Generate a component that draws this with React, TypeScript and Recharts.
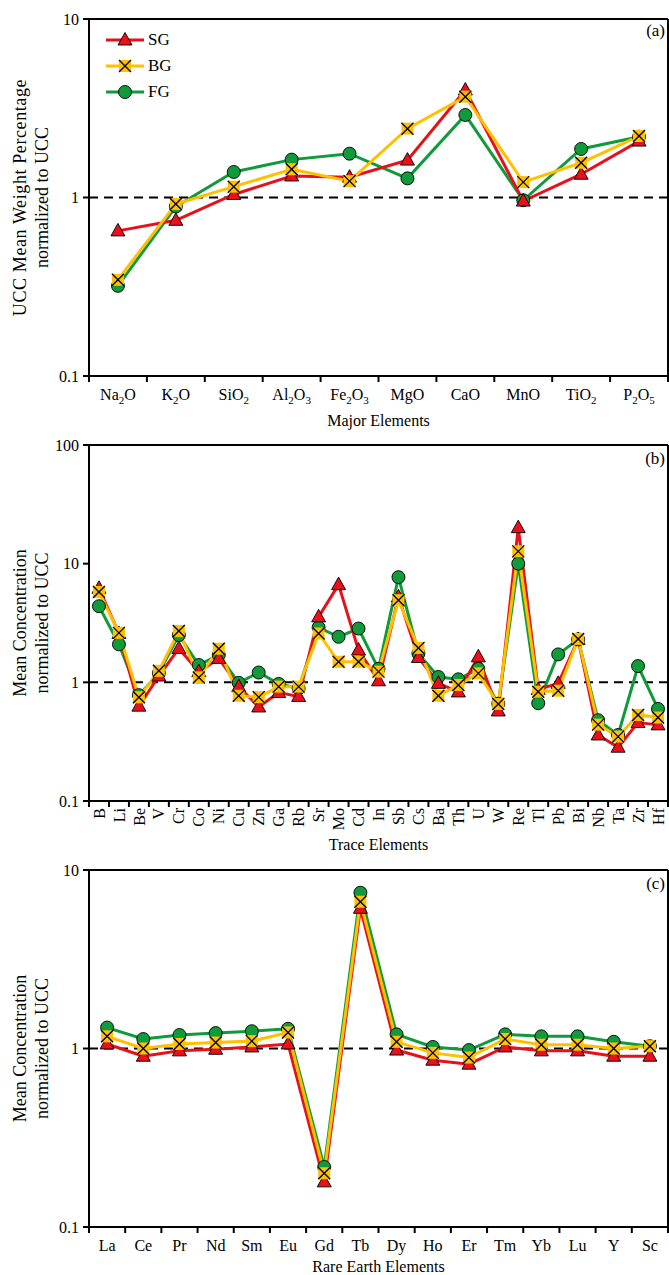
import React from 'react';
import { LineChart, Line, XAxis, YAxis, ReferenceLine, Legend } from 'recharts';

const FONT = '"Liberation Serif","Times New Roman",serif';
const W = 669;
const Y_AXIS_W = 89;
const RED = '#e8101a';
const GOLD = '#ffc000';
const GREEN = '#109a3a';

// ---- Panel (a) major elements ----
const majorCats = ['Na2O', 'K2O', 'SiO2', 'Al2O3', 'Fe2O3', 'MgO', 'CaO', 'MnO', 'TiO2', 'P2O5'];
const majorSG = [0.65, 0.745, 1.04, 1.32, 1.3, 1.62, 4.0, 0.955, 1.35, 2.07];
const majorBG = [0.346, 0.92, 1.15, 1.44, 1.235, 2.43, 3.67, 1.22, 1.565, 2.21];
const majorFG = [0.32, 0.89, 1.39, 1.63, 1.76, 1.28, 2.9, 0.965, 1.87, 2.19];

// ---- Panel (b) trace elements ----
const traceCats = ['B', 'Li', 'Be', 'V', 'Cr', 'Co', 'Ni', 'Cu', 'Zn', 'Ga', 'Rb', 'Sr', 'Mo', 'Cd', 'In', 'Sb', 'Cs', 'Ba', 'Th', 'U', 'W', 'Re', 'Tl', 'Pb', 'Bi', 'Nb', 'Ta', 'Zr', 'Hf'];
const traceSG = [6.2, 2.58, 0.63, 1.13, 1.93, 1.23, 1.59, 0.92, 0.62, 0.82, 0.76, 3.56, 6.66, 1.87, 1.03, 5.25, 1.62, 0.98, 0.83, 1.64, 0.574, 20.1, 0.87, 0.98, 2.3, 0.36, 0.284, 0.458, 0.438];
const traceBG = [5.77, 2.61, 0.748, 1.25, 2.71, 1.1, 1.92, 0.77, 0.75, 0.92, 0.92, 2.58, 1.49, 1.49, 1.23, 4.92, 1.95, 0.77, 0.95, 1.19, 0.657, 12.7, 0.834, 0.85, 2.32, 0.44, 0.349, 0.531, 0.505];
const traceFG = [4.38, 2.09, 0.78, 1.2, 2.5, 1.4, 1.7, 0.99, 1.21, 0.97, 0.89, 2.9, 2.42, 2.84, 1.3, 7.7, 1.75, 1.11, 1.06, 1.3, 0.66, 10.0, 0.667, 1.72, 2.3, 0.48, 0.36, 1.37, 0.597];

// ---- Panel (c) rare earth elements ----
const reeCats = ['La', 'Ce', 'Pr', 'Nd', 'Sm', 'Eu', 'Gd', 'Tb', 'Dy', 'Ho', 'Er', 'Tm', 'Yb', 'Lu', 'Y', 'Sc'];
const reeSG = [1.06, 0.905, 0.97, 0.99, 1.02, 1.06, 0.179, 6.1, 0.98, 0.86, 0.817, 1.02, 0.97, 0.97, 0.905, 0.905];
const reeBG = [1.17, 1.0, 1.06, 1.08, 1.1, 1.23, 0.2, 6.64, 1.09, 0.945, 0.89, 1.13, 1.05, 1.05, 1.0, 1.03];
const reeFG = [1.31, 1.13, 1.19, 1.22, 1.25, 1.29, 0.217, 7.46, 1.2, 1.02, 0.98, 1.2, 1.17, 1.17, 1.09, 1.03];

const ticks2 = [0.1, 1, 10];
const ticks3 = [0.1, 1, 10, 100];

const seriesNames = ['SG', 'BG', 'FG'];

function Tri({ cx, cy }: any) {
  return <polygon points={`${cx},${cy - 7.5} ${cx - 7},${cy + 5} ${cx + 7},${cy + 5}`} fill={RED} stroke="#000" strokeWidth={0.9} />;
}
function Cross({ cx, cy }: any) {
  return (
    <g>
      <rect x={cx - 6} y={cy - 6} width={12} height={12} fill={GOLD} />
      <line x1={cx - 6} y1={cy - 6} x2={cx + 6} y2={cy + 6} stroke="#000" strokeWidth={1.3} />
      <line x1={cx - 6} y1={cy + 6} x2={cx + 6} y2={cy - 6} stroke="#000" strokeWidth={1.3} />
    </g>
  );
}
function Circ({ cx, cy }: any) {
  return <circle cx={cx} cy={cy} r={6.5} fill={GREEN} stroke="#000" strokeWidth={0.9} />;
}

const markers: any = { SG: Tri, BG: Cross, FG: Circ };
const colors: any = { SG: RED, BG: GOLD, FG: GREEN };

function subParts(s: string) {
  return s.split(/(\d+)/).filter((p) => p.length > 0);
}

function XTick(props: any) {
  const { x, y, payload, index, bw, rotated, count, tickDy } = props;
  const parts = subParts(String(payload.value));
  const boundary = (
    <g>
      <line x1={x - bw / 2} y1={y} x2={x - bw / 2} y2={y + 6} stroke="#000" strokeWidth={2} />
      {index === count - 1 ? <line x1={x + bw / 2} y1={y} x2={x + bw / 2} y2={y + 6} stroke="#000" strokeWidth={2} /> : null}
    </g>
  );
  if (rotated) {
    return (
      <g>
        {boundary}
        <text
          x={x}
          y={y + 7}
          transform={`rotate(-90, ${x}, ${y + 7})`}
          textAnchor="end"
          dy="0.35em"
          fontFamily={FONT}
          fontSize={16}
          fill="#000"
        >
          {payload.value}
        </text>
      </g>
    );
  }
  return (
    <g>
      {boundary}
      <text x={x} y={y + tickDy} textAnchor="middle" fontFamily={FONT} fontSize={16} fill="#000">
        {parts.map((p, i) =>
          /^\d+$/.test(p) ? (
            <tspan key={i} fontSize={11} dy={4}>{p}</tspan>
          ) : (
            <tspan key={i} dy={i > 0 && /^\d+$/.test(parts[i - 1]) ? -4 : 0}>{p}</tspan>
          )
        )}
      </text>
    </g>
  );
}

function LegendBox() {
  return (
    <div style={{ fontFamily: FONT, fontSize: 17, color: '#000', lineHeight: '26px' }}>
      {seriesNames.map((n) => {
        const M = markers[n];
        return (
          <div key={n} style={{ display: 'flex', alignItems: 'center', height: 26 }}>
            <svg width={40} height={20} style={{ display: 'block' }}>
              <line x1={1} y1={10} x2={39} y2={10} stroke={colors[n]} strokeWidth={3} />
              <M cx={20} cy={10} />
            </svg>
            <span style={{ marginLeft: 3 }}>{n}</span>
          </div>
        );
      })}
    </div>
  );
}

function Panel(p: any) {
  const { cats, sg, bg, fg, top, height, marginTop, xAxisHeight, domain, ticks, yTitle, xTitle, tag, rotated, legend, titleDy, tickDy, tagDy } = p;
  const data = cats.map((c: string, i: number) => ({ name: c, SG: sg[i], BG: bg[i], FG: fg[i] }));
  const plotW = W - Y_AXIS_W - 1;
  const bw = plotW / cats.length;
  const axisStyle = { stroke: '#000', strokeWidth: 2 };
  const order = ['FG', 'SG', 'BG'];
  return (
    <div style={{ position: 'absolute', left: 0, top }}>
      <LineChart width={W} height={height} data={data} margin={{ top: marginTop, right: 0, bottom: 0, left: 0 }}>
        <XAxis
          dataKey="name"
          type="category"
          scale="band"
          interval={0}
          height={xAxisHeight}
          axisLine={axisStyle}
          tickLine={false}
          tickSize={0}
          tickMargin={0}
          tick={(tp: any) => <XTick {...tp} bw={bw} rotated={rotated} count={cats.length} tickDy={tickDy} />}
          label={{
            content: (lp: any) => {
              const vb = lp.viewBox || { x: Y_AXIS_W, y: 0, width: plotW, height: 0 };
              return (
                <text x={vb.x + vb.width / 2} y={vb.y + titleDy} textAnchor="middle" fontFamily={FONT} fontSize={16} fill="#000">
                  {xTitle}
                </text>
              );
            },
          }}
        />
        <XAxis
          xAxisId="t"
          dataKey="name"
          type="category"
          scale="band"
          orientation="top"
          height={1}
          tick={false}
          tickLine={false}
          axisLine={axisStyle}
          label={{
            content: (lp: any) => {
              const vb = lp.viewBox || { x: Y_AXIS_W, y: marginTop, width: plotW, height: 0 };
              return (
                <text x={vb.x + vb.width - 3} y={vb.y + vb.height + tagDy} textAnchor="end" fontFamily={FONT} fontSize={17} fill="#000">
                  {tag}
                </text>
              );
            },
          }}
        />
        <YAxis
          type="number"
          scale="log"
          domain={domain}
          ticks={ticks}
          interval={0}
          allowDataOverflow
          width={Y_AXIS_W}
          axisLine={axisStyle}
          tickLine={axisStyle}
          tickSize={6}
          tickMargin={4}
          tick={{ fill: '#000', fontSize: 16, fontFamily: FONT }}
          tickFormatter={(v: number) => String(v)}
          label={{
            content: (lp: any) => {
              const vb = lp.viewBox || { x: 0, y: marginTop, width: Y_AXIS_W, height: 357 };
              const cy = vb.y + vb.height / 2;
              return (
                <g>
                  {yTitle.map((t: string, i: number) => {
                    const x = 26 + i * 22;
                    return (
                      <text key={i} x={x} y={cy} transform={`rotate(-90, ${x}, ${cy})`} textAnchor="middle" fontFamily={FONT} fontSize={18} letterSpacing={i === 0 && yTitle[0].length > 20 ? 0.6 : 0} fill="#000">
                        {t}
                      </text>
                    );
                  })}
                </g>
              );
            },
          }}
        />
        <YAxis
          yAxisId="r"
          type="number"
          scale="log"
          domain={domain}
          allowDataOverflow
          orientation="right"
          width={1}
          tick={false}
          tickLine={false}
          axisLine={axisStyle}
        />
        <ReferenceLine y={1} stroke="#000" strokeWidth={2} strokeDasharray="9 6" />
        {order.map((n) => {
          const M = markers[n];
          return (
            <Line
              key={n}
              type="linear"
              dataKey={n}
              name={n}
              stroke={colors[n]}
              strokeWidth={3}
              isAnimationActive={false}
              dot={(dp: any) => <M key={`${n}-${dp.index}`} cx={dp.cx} cy={dp.cy} />}
              activeDot={false}
            />
          );
        })}
        {legend ? (
          <Legend
            layout="vertical"
            verticalAlign="middle"
            align="center"
            content={() => <LegendBox />}
            wrapperStyle={{ position: 'absolute', left: 105, top: 27, width: 90, height: 80 }}
          />
        ) : null}
      </LineChart>
    </div>
  );
}

export default function App() {
  return (
    <div style={{ position: 'absolute', left: 0, top: 0, width: W, height: 1275, background: '#fff', overflow: 'hidden' }}>
      <Panel
        cats={majorCats} sg={majorSG} bg={majorBG} fg={majorFG}
        top={0} height={430} marginTop={18} xAxisHeight={54}
        domain={[0.1, 10]} ticks={ticks2}
        yTitle={['UCC Mean Weight Percentage', 'normalized to UCC']}
        xTitle="Major Elements" tag="(a)" legend titleDy={50} tickDy={24} tagDy={17}
      />
      <Panel
        cats={traceCats} sg={traceSG} bg={traceBG} fg={traceFG}
        top={430} height={425} marginTop={14} xAxisHeight={54}
        domain={[0.1, 100]} ticks={ticks3}
        yTitle={['Mean Concentration', 'normalized to UCC']}
        xTitle="Trace Elements" tag="(b)" rotated titleDy={49} tickDy={24} tagDy={19}
      />
      <Panel
        cats={reeCats} sg={reeSG} bg={reeBG} fg={reeFG}
        top={855} height={420} marginTop={14} xAxisHeight={48}
        domain={[0.1, 10]} ticks={ticks2}
        yTitle={['Mean Concentration', 'normalized to UCC']}
        xTitle="Rare Earth Elements" tag="(c)" titleDy={45} tickDy={24} tagDy={19}
      />
    </div>
  );
}
